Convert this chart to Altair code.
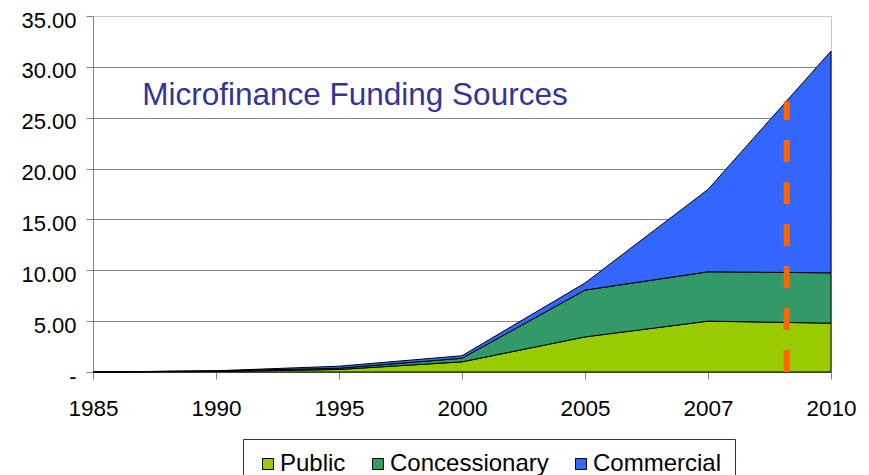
import json
import altair as alt
import pandas as pd

years = ["1985", "1990", "1995", "2000", "2005", "2007", "2010"]
series = ["Public", "Concessionary", "Commercial"]
colors = ["#99CC00", "#339966", "#3366FF"]
public = [0.0, 0.05, 0.25, 1.0, 3.45, 5.0, 4.8]
concessionary = [0.0, 0.05, 0.12, 0.35, 4.6, 4.85, 4.95]
commercial = [0.0, 0.02, 0.2, 0.25, 0.7, 8.1, 21.8]
y_ticks = [0, 5, 10, 15, 20, 25, 30, 35]

# dashed marker (position in category-index units) and its top value
marker_x = [5.64]
marker_top = [26.6]

title_text = ["Microfinance Funding Sources"]
title_pos_x = [0.40]
title_pos_y = [26.25]

FONT = "Liberation Sans"

rows = []
for k, (name, vals) in enumerate(zip(series, [public, concessionary, commercial])):
    for i, v in enumerate(vals):
        rows.append({"idx": i, "year": years[i], "series": name, "value": v, "ord": k})
df = pd.DataFrame(rows)

rule_df = pd.DataFrame({"x": marker_x, "y0": [0.0] * len(marker_x), "y1": marker_top})
text_df = pd.DataFrame({"x": title_pos_x, "y": title_pos_y, "t": title_text})

year_expr = json.dumps(years) + "[datum.value]"
nb = "\u00a0"
y_label_expr = "datum.value == 0 ? '-" + nb * 4 + "' : format(datum.value, '.2f')"

x_enc = alt.X(
    "idx:Q",
    scale=alt.Scale(domain=[0, len(years) - 1], nice=False, zero=False),
    axis=alt.Axis(
        values=list(range(len(years))),
        labelExpr=year_expr,
        title=None,
        grid=False,
        tickSize=7,
        labelPadding=18,
        labelFontSize=22.5,
        labelFont=FONT,
        labelColor="black",
        tickColor="#808080",
        domainColor="#808080",
        labelFlush=False,
    ),
)

y_enc = alt.Y(
    "value:Q",
    stack="zero",
    scale=alt.Scale(domain=[0, 35], nice=False),
    axis=alt.Axis(
        values=y_ticks,
        labelExpr=y_label_expr,
        title=None,
        grid=True,
        gridColor={"condition": {"test": "datum.value >= 35", "value": "#c8c8c8"}, "value": "#808080"},
        tickSize=7,
        labelPadding=10,
        labelOffset=4,
        labelFontSize=22,
        labelFont=FONT,
        labelColor="black",
        tickColor="#808080",
        domainColor="#808080",
    ),
)

area = alt.Chart(df).mark_area(stroke="black", strokeWidth=1, interpolate="linear", opacity=1).encode(
    x=x_enc,
    y=y_enc,
    color=alt.Color(
        "series:N",
        scale=alt.Scale(domain=series, range=colors),
        legend=alt.Legend(
            title=None,
            orient="none",
            legendX=150,
            legendY=423,
            direction="horizontal",
            columns=3,
            symbolType="square",
            symbolSize=121,
            symbolStrokeColor="black",
            symbolStrokeWidth=1,
            symbolOpacity=1,
            labelFontSize=24,
            labelFont=FONT,
            labelColor="black",
            labelOffset=0,
            columnPadding=20,
            padding=13,
            strokeColor="#333333",
            fillColor="white",
        ),
    ),
    order=alt.Order("ord:Q"),
)

rule = alt.Chart(rule_df).mark_rule(
    color="#FF6600", strokeWidth=6, strokeDash=[22, 20], strokeCap="butt"
).encode(x="x:Q", y="y0:Q", y2="y1:Q")

text = alt.Chart(text_df).mark_text(
    align="left", baseline="alphabetic", fontSize=31.5, color="#333399", font=FONT
).encode(x="x:Q", y="y:Q", text="t:N")

chart = (
    alt.layer(area, rule, text)
    .properties(
        width=738,
        height=356,
        autosize=alt.AutoSizeParams(type="none"),
        padding={"left": 85, "top": 8, "right": 30, "bottom": 110},
        background="white",
    )
    .configure_view(stroke="#c8c8c8", strokeWidth=1)
)

chart.save("out.html", embed_options={"renderer": "svg", "actions": False})
